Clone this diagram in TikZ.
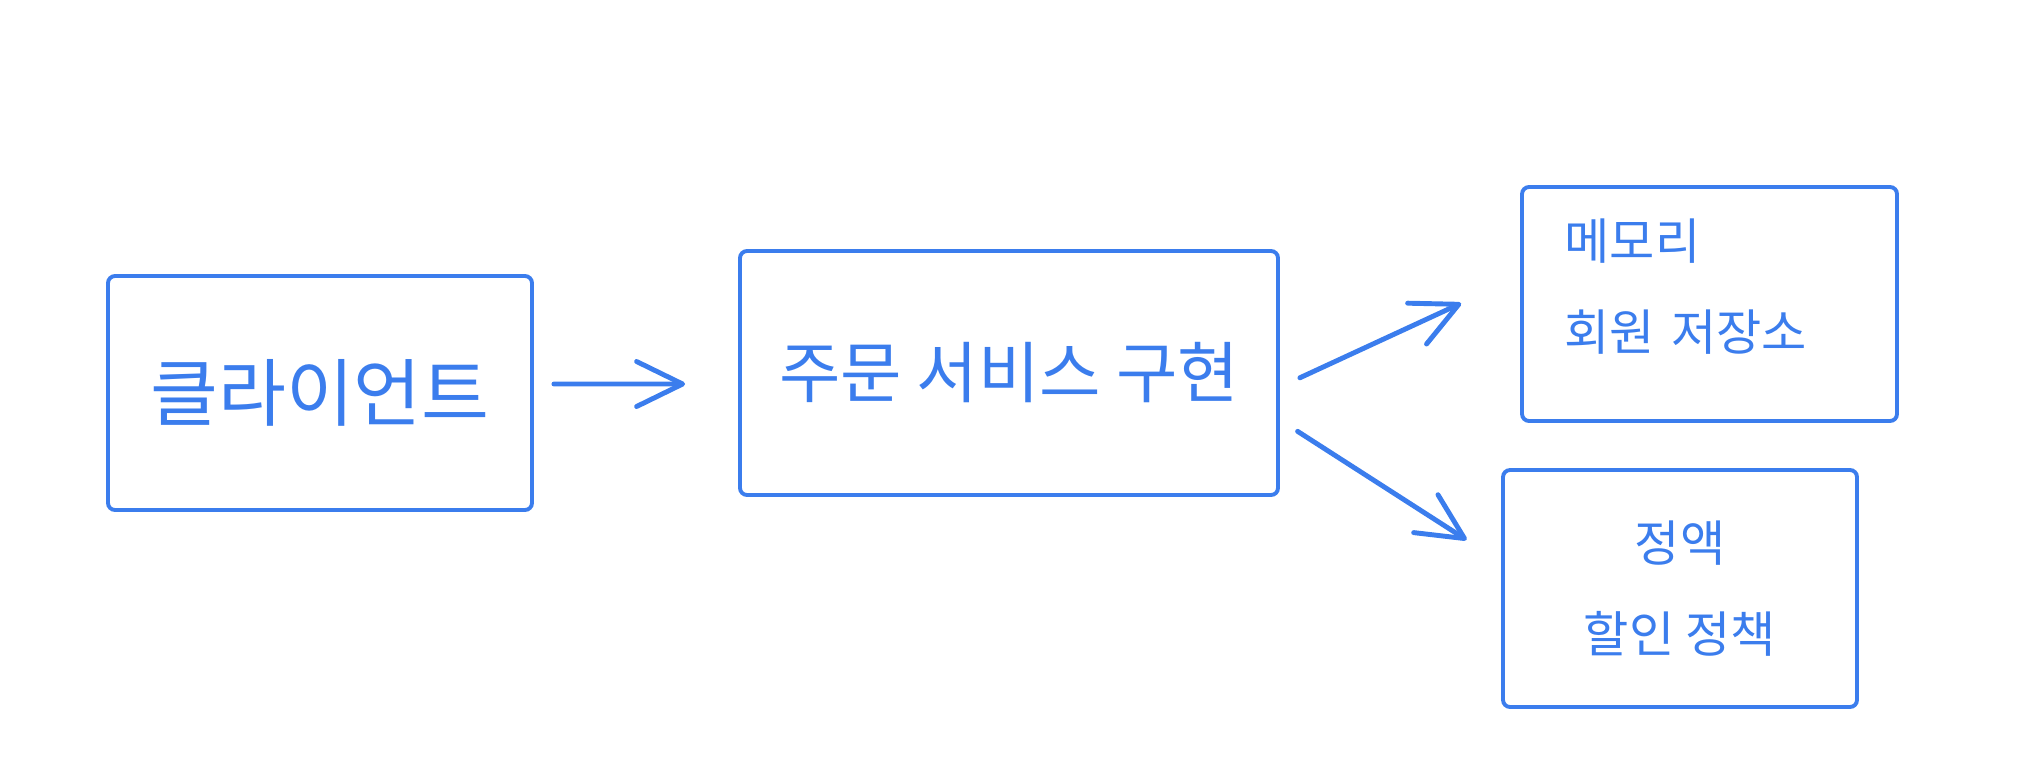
\documentclass[tikz,border=0pt]{standalone}
\usepackage{fontspec}
\setmainfont{Noto Sans CJK KR}
\usetikzlibrary{arrows.meta}
\definecolor{pen}{RGB}{59,125,237}

\begin{document}
\begin{tikzpicture}[
    every node/.style={text=pen},
    box/.style={draw=pen, line width=1.1pt, rounded corners=2pt, inner sep=2pt},
    big/.style={box, font=\fontsize{19}{23}\selectfont},
    small/.style={box, font=\fontsize{14}{26}\selectfont},
    arr/.style={draw=pen, line width=1.4pt, line cap=round, line join=round,
                -{Straight Barb[length=4.6mm, width=4.5mm, round]}}
  ]
  \useasboundingbox (0,0) rectangle (20.18,-7.82);
  \node[big, font=\fontsize{21}{25}\selectfont, minimum width=4.24cm, minimum height=2.34cm] (client) at (3.20,-3.93) {클라이언트};
  \node[big, minimum width=5.38cm, minimum height=2.44cm] (order)  at (10.09,-3.73) {주문 서비스 구현};
  \node[small, minimum width=3.75cm, minimum height=2.34cm, text width=2.9cm, text depth=1.3cm, align=left] (store) at (17.095,-3.04) {메모리\\회원 저장소};
  \node[small, minimum width=3.54cm, minimum height=2.37cm, align=center] (policy) at (16.80,-5.885) {정액\\할인 정책};
  \draw[arr, shorten <=0.2cm, shorten >=0.53cm] ([yshift=0.09cm]client.east) -- ([yshift=-0.11cm]order.west);
  \draw[arr, shorten <=0.22cm, shorten >=0.65cm] ([yshift=-0.14cm]order.east) -- ([yshift=0.28cm]store.west);
  \draw[arr, shorten <=0.21cm, shorten >=0.41cm] ([yshift=-0.47cm]order.east) -- ([yshift=0.265cm]policy.west);
\end{tikzpicture}
\end{document}
